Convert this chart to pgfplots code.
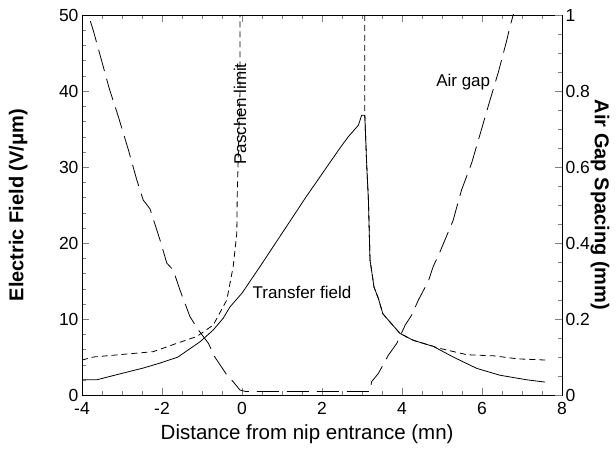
\documentclass[border=0pt]{standalone}
\usepackage{pgfplots}
\pgfplotsset{compat=1.18}
\usepackage{fontspec}
\setmainfont{Liberation Sans}
\begin{document}
\begin{tikzpicture}
\pgfplotsset{
  common/.style={
    scale only axis, width=480pt, height=380pt,
    xmin=-4, xmax=8,
    tick align=inside,
    major tick length=7pt, minor tick length=4pt,
    /pgf/number format/assume math mode=true,
    tick label style={font=\fontsize{17.5}{20}\selectfont},
    every axis plot/.append style={line width=0.8pt, black},
  }
}
\begin{axis}[common, name=ax,
  ymin=0, ymax=50,
  xtick={-4,-2,...,8}, minor x tick num=3,
  ytick={0,10,...,50}, minor y tick num=4,
  xtick pos=both, ytick pos=left,
  xticklabel style={yshift=-4pt},
  xlabel={Distance from nip entrance (mn)},
  xlabel style={font=\fontsize{20.5}{24}\selectfont, at={(axis description cs:0.469,-0.103)}, anchor=center},
  ylabel={\bfseries Electric Field (V/μm)},
  ylabel style={font=\fontsize{20}{24}\selectfont, at={(axis description cs:-0.133,0.5)}, anchor=center},
]
% Transfer field
\addplot[solid] coordinates {
(-4,2.0) (-3.63,2.0) (-3.0,2.85) (-2.5,3.5) (-2.05,4.2) (-1.6,5.0) (-1.3,6.1) (-1.05,7.0)
(-0.72,8.55) (-0.47,10.1) (-0.3,11.6) (0,13.4) (0.45,16.9) (1.28,23.5) (1.58,25.9)
(2.45,32.5) (2.66,34.0) (2.91,35.5) (2.99,36.8) (3.07,36.8) (3.12,30) (3.16,25.7)
(3.2,17.8) (3.3,14.2) (3.41,12.7) (3.52,10.7) (3.7,9.6) (3.95,8.1) (4.28,7.2)
(4.78,6.4) (5.28,5.0) (5.87,3.5) (6.45,2.6) (7.12,2.0) (7.58,1.7)
};
% Paschen limit, left branch
\addplot[dash pattern=on 6pt off 4pt] coordinates {
(-4,4.6) (-3.72,5.0) (-2.22,5.7) (-1.63,6.8) (-1.13,7.7) (-0.72,9.2) (-0.38,12.5)
(-0.22,16.9) (-0.13,21.3) (-0.12,26) (-0.1,30) (-0.05,40) (-0.05,50)
};
% Paschen limit, right branch
\addplot[dash pattern=on 6pt off 4pt] coordinates {
(3.07,50) (3.07,36.8) (3.12,30) (3.16,25.7) (3.2,17.8) (3.3,14.2) (3.41,12.7)
(3.52,10.7) (3.7,9.6) (3.95,8.1) (4.28,7.2) (4.78,6.4) (4.9,6.2) (5.12,5.92)
(5.62,5.3) (6.3,5.15) (6.9,4.75) (7.6,4.6)
};
\node[font=\fontsize{17}{20}\selectfont, rotate=90] at (axis cs:-0.05,37) {Paschen limit};
\node[font=\fontsize{17}{20}\selectfont] at (axis cs:5.53,41.2) {Air gap};
\node[font=\fontsize{17}{20}\selectfont] at (axis cs:1.5,13.55) {Transfer field};
\end{axis}
\begin{axis}[common,
  ymin=0, ymax=1,
  axis x line=none, axis y line*=right,
  ytick={0,0.2,...,1}, minor y tick num=3,
  yticklabel style={/pgf/number format/fixed},
  ylabel={\bfseries Air Gap Spacing (mm)},
  ylabel style={font=\fontsize{20}{24}\selectfont, rotate=180, at={(axis description cs:1.079,0.5)}, anchor=center},
]
\addplot[dash pattern=on 22pt off 8pt] coordinates {
(-4,1.06) (-3.84,1.0) (-3.72,0.96) (-3.51,0.88) (-3.32,0.807) (-3.09,0.732) (-2.84,0.645)
(-2.63,0.566) (-2.47,0.513) (-2.3,0.49) (-2.05,0.408) (-1.88,0.347) (-1.72,0.329)
(-1.55,0.276) (-1.3,0.206) (-1.09,0.171) (-0.84,0.136) (-0.68,0.10) (-0.38,0.053)
(-0.22,0.035) (-0.05,0.013) (0.1,0.009) (3.2,0.009) (3.24,0.035) (3.41,0.057)
(3.66,0.105) (3.87,0.136) (4.08,0.184) (4.24,0.21) (4.41,0.25) (4.66,0.30) (4.78,0.338)
(4.95,0.377) (5.28,0.46) (5.37,0.495) (5.49,0.54) (5.74,0.61) (5.99,0.70) (6.2,0.776)
(6.41,0.85) (6.62,0.934) (6.7,0.97) (6.78,1.0) (6.85,1.05)
};
\end{axis}
\path ([shift={(-82pt,-60pt)}]ax.south west) rectangle ([shift={(54pt,15pt)}]ax.north east);
\end{tikzpicture}
\end{document}
